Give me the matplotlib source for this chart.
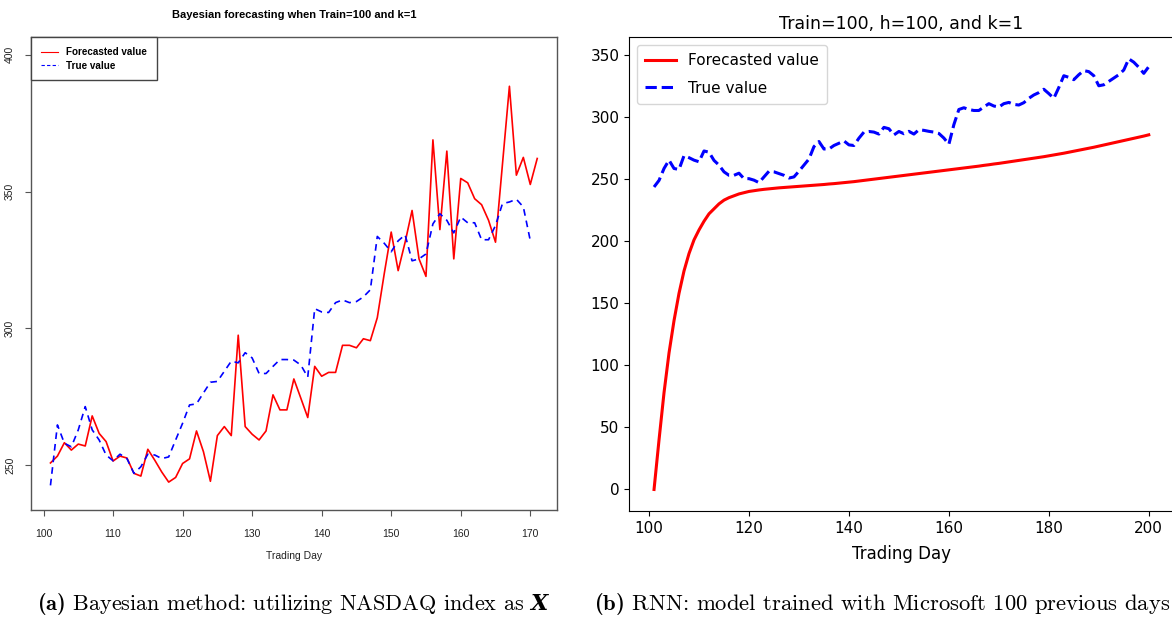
import numpy as np
import matplotlib.pyplot as plt
from matplotlib.lines import Line2D

plt.rcParams['mathtext.fontset'] = 'custom'
plt.rcParams['mathtext.rm'] = 'cmr10'
plt.rcParams['mathtext.bf'] = 'cmb10'
plt.rcParams['mathtext.bfit'] = 'DejaVu Serif:italic:bold'

# Bayesian model (NASDAQ as X): days 101-171
dias_bayes = np.arange(101, 172)
pronostico_bayes = [
    250.8, 253.3, 258.2, 255.5, 257.7, 257.0, 268.0, 261.6, 258.6, 251.5,
    253.3, 252.6, 247.0, 246.0, 255.8, 251.8, 247.5, 243.8, 245.5, 250.6,
    252.3, 262.5, 254.9, 244.1, 260.8, 264.1, 260.8, 297.5, 264.1, 261.3,
    259.2, 262.5, 275.7, 270.2, 270.2, 281.5, 274.5, 267.4, 286.1, 282.5,
    283.9, 283.9, 293.8, 293.8, 292.9, 296.2, 295.5, 303.9, 320.0, 335.2,
    321.1, 331.5, 343.1, 325.4, 319.0, 368.9, 336.1, 364.8, 325.4, 354.8,
    353.2, 347.4, 345.2, 339.5, 331.5, 360.0, 388.5, 356.0, 362.5, 352.6,
    362.1,
]
real_bayes = [
    242.6, 264.7, 258.0, 256.7, 262.9, 271.4, 262.9, 259.2, 253.7, 251.6,
    254.0, 252.4, 247.0, 249.4, 254.0, 253.7, 252.4, 253.0, 259.2, 265.3,
    272.0, 272.4, 276.4, 280.3, 280.6, 284.3, 288.0, 287.4, 291.1, 289.2,
    283.5, 283.5, 286.1, 288.6, 288.6, 288.4, 286.6, 282.2, 307.2, 306.0,
    305.8, 309.4, 310.4, 309.4, 309.8, 311.5, 314.1, 333.6, 331.1, 328.0,
    332.0, 334.2, 324.7, 325.4, 327.2, 338.2, 341.9, 339.5, 334.9, 340.7,
    338.6, 338.6, 332.4, 332.4, 337.6, 345.6, 346.2, 347.2, 344.4, 332.1,
]

# RNN model (Microsoft, 100 previous days): days 101-200
dias_rnn = np.arange(101, 201)
pronostico_rnn = [
    0.0, 40.0, 78.0, 110.0, 136.0, 158.0, 176.0, 190.0, 201.0, 209.0,
    216.0, 222.0, 226.0, 230.0, 233.0, 235.0, 236.5, 238.0, 239.0, 240.0,
    240.6, 241.2, 241.7, 242.1, 242.5, 242.9, 243.2, 243.5, 243.8, 244.1,
    244.4, 244.7, 245.0, 245.3, 245.6, 246.0, 246.3, 246.7, 247.1, 247.5,
    247.9, 248.4, 248.9, 249.4, 249.9, 250.4, 250.9, 251.4, 251.9, 252.4,
    252.9, 253.4, 253.9, 254.4, 254.9, 255.4, 255.9, 256.4, 256.9, 257.4,
    257.9, 258.4, 258.9, 259.4, 259.9, 260.4, 261.0, 261.5, 262.1, 262.6,
    263.2, 263.8, 264.4, 265.0, 265.6, 266.2, 266.8, 267.4, 268.0, 268.7,
    269.4, 270.1, 270.8, 271.6, 272.4, 273.2, 274.0, 274.8, 275.6, 276.5,
    277.4, 278.3, 279.2, 280.1, 281.0, 281.9, 282.8, 283.7, 284.6, 285.6,
]
real_rnn = [
    243.6, 248.9, 258.5, 265.2, 258.5, 257.7, 268.8, 267.2, 265.2, 263.9,
    272.6, 271.6, 265.0, 261.2, 255.8, 253.0, 253.0, 254.7, 250.3, 250.3,
    249.1, 247.1, 251.7, 256.3, 255.8, 254.4, 253.0, 250.8, 251.7, 256.3,
    261.2, 266.1, 276.1, 280.2, 274.2, 274.2, 277.0, 278.8, 280.7, 277.5,
    277.0, 282.9, 287.8, 288.3, 287.8, 286.2, 291.6, 290.5, 285.5, 288.3,
    286.5, 288.4, 286.2, 289.7, 289.2, 288.4, 287.8, 286.7, 283.0, 278.0,
    293.8, 306.0, 307.4, 306.0, 305.2, 305.2, 308.0, 310.7, 308.8, 308.0,
    310.7, 311.7, 310.1, 309.6, 311.5, 315.0, 317.7, 319.6, 322.3, 318.8,
    315.0, 323.7, 333.2, 331.9, 330.0, 334.0, 337.3, 336.5, 333.2, 325.1,
    325.9, 328.6, 331.3, 334.0, 337.8, 346.8, 344.1, 340.0, 335.1, 340.5,
]

W, H = 1172, 618
fig = plt.figure(figsize=(W / 100, H / 100), dpi=100)


def caja(x0, y0, x1, y1):
    return [x0 / W, 1 - y1 / H, (x1 - x0) / W, (y1 - y0) / H]


# --- panel (a): estilo R ---
fuente_r = 'Liberation Sans'
gris = '#555555'
ax1 = fig.add_axes(caja(31, 37.3, 556.7, 510))
ax1.plot(dias_bayes, pronostico_bayes, color='red', lw=1.2)
ax1.plot(dias_bayes[:len(real_bayes)], real_bayes, color='blue', lw=1.2,
         dashes=(4, 3))
ax1.set_xlim(98.2, 173.8)
ax1.set_ylim(233.6, 406.4)
ax1.set_xticks(range(100, 171, 10))
ax1.set_yticks(range(250, 401, 50))
for s in ax1.spines.values():
    s.set_color(gris)
    s.set_linewidth(1.0)
ax1.tick_params(axis='both', colors=gris, labelcolor='#222222', length=4.5,
                width=0.8, labelsize=7.5)
ax1.tick_params(axis='x', pad=9)
ax1.tick_params(axis='y', pad=7)
for lab in ax1.get_xticklabels() + ax1.get_yticklabels():
    lab.set_fontfamily(fuente_r)
for lab in ax1.get_yticklabels():
    lab.set_rotation(90)
    lab.set_va('center')
ax1.set_xlabel('Trading Day', fontfamily=fuente_r, fontsize=7.5,
               color='#222222', labelpad=9)
ax1.set_title('Bayesian forecasting when Train=100 and k=1',
              fontfamily=fuente_r, fontsize=8, fontweight='bold', pad=14)
manijas = [Line2D([], [], color='red', lw=0.8),
           Line2D([], [], color='blue', lw=0.8, dashes=(3, 2))]
leg1 = ax1.legend(manijas, ['Forecasted value', 'True value'],
                  loc='upper left', borderaxespad=0, fancybox=False,
                  framealpha=1, edgecolor='#444444', handlelength=1.7,
                  handletextpad=0.9, borderpad=1.0, labelspacing=0.35,
                  prop={'family': fuente_r, 'weight': 'bold', 'size': 7.1})
leg1.get_frame().set_linewidth(1.0)

# --- panel (b): estilo matplotlib ---
ax2 = fig.add_axes(caja(629.3, 37.3, 1173.5, 511))
ax2.plot(dias_rnn, pronostico_rnn, color='red', lw=2.2,
         label='Forecasted value')
ax2.plot(dias_rnn, real_rnn, color='blue', lw=2.2, ls='--',
         label='True value')
ax2.set_xlim(96.05, 204.95)
ax2.set_yticks(range(0, 351, 50))
ax2.set_xticks(range(100, 201, 20))
ax2.tick_params(labelsize=11)
ax2.set_xlabel('Trading Day', fontsize=12, labelpad=7)
ax2.set_title('Train=100, h=100, and k=1', fontsize=12.5)
ax2.legend(loc='upper left', fontsize=11, labelspacing=0.8, borderpad=0.55)

# --- captions ---
fig.text(294 / W, 1 - 604 / H,
         r'$\mathbf{(a)}$ Bayesian method: utilizing NASDAQ index as $\mathbfit{X}$',
         ha='center', va='center', fontfamily='cmr10', fontsize=16)
fig.text(882 / W, 1 - 604 / H,
         r'$\mathbf{(b)}$ RNN: model trained with Microsoft 100 previous days',
         ha='center', va='center', fontfamily='cmr10', fontsize=16.3)

fig.savefig('out.png', dpi=100)
